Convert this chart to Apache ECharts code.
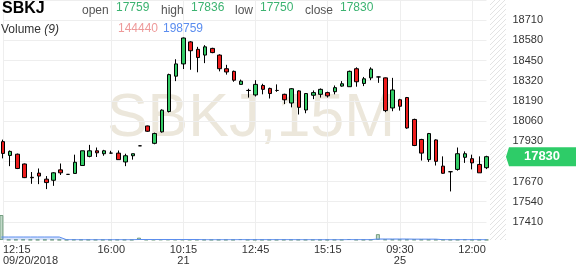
<!DOCTYPE html>
<html><head><meta charset="utf-8">
<script src="https://cdn.jsdelivr.net/npm/echarts@6/dist/echarts.min.js"></script>
<style>html,body{margin:0;padding:0;background:#fff;overflow:hidden}#c{width:576px;height:268px}</style>
</head><body><div id="c"></div>
<script>
const symbol = 'SBKJ';
const period = '15M';
const maPeriod = 9;
const times = [
 '2018-09-20 12:15','2018-09-20 12:30','2018-09-20 12:45','2018-09-20 13:00','2018-09-20 13:15','2018-09-20 13:30','2018-09-20 13:45','2018-09-20 14:00',
 '2018-09-20 14:15','2018-09-20 14:30','2018-09-20 14:45','2018-09-20 15:00','2018-09-20 15:15','2018-09-20 15:30','2018-09-20 15:45','2018-09-20 16:00',
 '2018-09-21 08:00','2018-09-21 08:15','2018-09-21 08:30','2018-09-21 08:45','2018-09-21 09:00','2018-09-21 09:15','2018-09-21 09:30','2018-09-21 09:45',
 '2018-09-21 10:00','2018-09-21 10:15','2018-09-21 10:30','2018-09-21 10:45','2018-09-21 11:00','2018-09-21 11:15','2018-09-21 11:30','2018-09-21 11:45',
 '2018-09-21 12:00','2018-09-21 12:15','2018-09-21 12:30','2018-09-21 12:45','2018-09-21 13:00','2018-09-21 13:15','2018-09-21 13:30','2018-09-21 13:45',
 '2018-09-21 14:00','2018-09-21 14:15','2018-09-21 14:30','2018-09-21 14:45','2018-09-21 15:00','2018-09-21 15:15','2018-09-21 15:30','2018-09-21 15:45',
 '2018-09-21 16:00','2018-09-25 08:00','2018-09-25 08:15','2018-09-25 08:30','2018-09-25 08:45','2018-09-25 09:00','2018-09-25 09:15','2018-09-25 09:30',
 '2018-09-25 09:45','2018-09-25 10:00','2018-09-25 10:15','2018-09-25 10:30','2018-09-25 10:45','2018-09-25 11:00','2018-09-25 11:15','2018-09-25 11:30',
 '2018-09-25 11:45','2018-09-25 12:00','2018-09-25 12:15','2018-09-25 12:30'
];
const labeledTimes = ['2018-09-20 12:15','2018-09-20 16:00','2018-09-21 10:15','2018-09-21 12:45','2018-09-21 15:15','2018-09-25 09:30','2018-09-25 12:00'];
const opens  = [17927,17838,17846,17783,17697,17724,17685,17678,17745,17716,17722,17773,17832,17868,17849,17853,17853,17796,17836,17900,18028,17916,17990,18121,18349,18428,18570,18522,18485,18528,18485,18397,18380,18296,18257,18228,18289,18270,18257,18232,18176,18254,18131,18226,18232,18243,18249,18285,18281,18397,18302,18338,18344,18338,18144,18197,18211,18070,17941,17811,17938,17769,17733,17748,17826,17817,17780,17759];
const closes = [17851,17864,17754,17695,17694,17705,17663,17726,17726,17716,17794,17868,17868,17855,17868,17853,17811,17836,17849,17900,17994,17979,18130,18359,18428,18595,18513,18469,18538,18501,18397,18376,18323,18317,18257,18296,18264,18237,18257,18197,18268,18148,18237,18243,18264,18222,18275,18300,18380,18313,18332,18395,18344,18127,18260,18155,18015,17902,17853,17979,17800,17723,17733,17849,17849,17790,17726,17830];
const lows   = [17819,17769,17750,17692,17655,17653,17621,17642,17712,17716,17722,17773,17826,17828,17836,17851,17811,17769,17811,17900,17990,17910,17985,18115,18317,18395,18390,18374,18433,18497,18380,18359,18313,18296,18211,18218,18232,18205,18248,18169,18148,18102,18110,18201,18211,18211,18232,18281,18281,18281,18285,18323,18306,18117,18123,18127,18010,17898,17805,17796,17773,17720,17606,17740,17790,17748,17726,17750];
const highs  = [17940,17870,17850,17786,17731,17754,17705,17730,17786,17718,17843,17868,17906,17889,17874,17868,17870,17849,17849,17902,18030,17985,18135,18365,18458,18598,18575,18538,18549,18532,18490,18422,18385,18327,18268,18323,18300,18275,18296,18236,18272,18258,18240,18257,18270,18249,18289,18317,18385,18406,18344,18406,18346,18340,18338,18203,18215,18075,17945,17983,17942,17832,17735,17889,17864,17843,17832,17836];
const volumes = [20000000,180000,210000,230000,190000,170000,160000,220000,150000,140000,260000,240000,200000,180000,170000,190000,230000,210000,200000,
 1900000,300000,280000,420000,380000,350000,330000,260000,240000,220000,200000,190000,210000,200000,
 700000,180000,200000,190000,170000,160000,220000,250000,230000,210000,180000,170000,160000,190000,200000,
 800000,250000,220000,240000,4700000,400000,350000,300000,320000,310000,280000,260000,240000,230000,220000,210000,450000,180000,160000,144440];
const volMA = [2400000,2400000,2400000,2400000,2400000,2400000,2400000,2400000,2400000,
 215000,205000,200000,198000,195000,200000,205000,210000,208000,205000,
 390000,392000,388000,385000,390000,395000,392000,388000,385000,
 205000,200000,198000,202000,205000,
 260000,260000,260000,260000,260000,260000,260000,260000,
 210000,210000,210000,210000,210000,210000,210000,
 270000,270000,270000,270000,
 790000,790000,790000,790000,790000,
 700000,700000,700000,700000,
 230000,225000,220000,250000,245000,240000,198759];
const priceMin = 17280, priceMax = 18840, priceStep = 130;

const FONT = "Arial, 'Liberation Sans', sans-serif";
const UP = '#33cc66', DOWN = '#ee1c1c', NUMG = '#3cb371';
const last = times.length - 1;
const candles = times.map((t, i) => [opens[i], closes[i], lows[i], highs[i]]);

function xLabel(value) {
  const k = labeledTimes.indexOf(value);
  const [d, t] = value.split(' ');
  const [Y, M, D] = d.split('-');
  if (k === 0) return t + '\n' + M + '/' + D + '/' + Y;
  if (k > 0 && labeledTimes[k - 1].split(' ')[0] !== d) return t + '\n' + D;
  return t;
}
const isLabeled = (idx, value) => labeledTimes.includes(value);

const chart = echarts.init(document.getElementById('c'), null, {renderer: 'canvas'});
const gridL = 1.4, gridR = 89.5;
chart.setOption({
  animation: false,
  textStyle: {fontFamily: FONT},
  grid: [
    {left: gridL, right: gridR, top: -4.5, bottom: 26},
    {left: gridL, right: gridR, top: 215, bottom: 28}
  ],
  xAxis: [
    {type: 'category', gridIndex: 0, data: times, boundaryGap: false,
     axisLine: {show: false}, axisTick: {show: false},
     axisLabel: {interval: isLabeled, formatter: xLabel, color: '#333', fontSize: 11, lineHeight: 11, margin: 2, fontFamily: FONT, alignMinLabel: 'left', hideOverlap: false},
     splitLine: {show: true, interval: isLabeled, lineStyle: {color: '#eeeeee', width: 1}}},
    {type: 'category', gridIndex: 1, data: times, boundaryGap: false, show: false}
  ],
  yAxis: [
    {type: 'value', gridIndex: 0, position: 'right', min: priceMin, max: priceMax, interval: priceStep, scale: true,
     axisLine: {show: false}, axisTick: {show: false},
     axisLabel: {showMinLabel: false, showMaxLabel: false, margin: 26, color: '#333', fontSize: 11, fontFamily: FONT,
       formatter: v => String(v)},
     splitLine: {lineStyle: {color: '#eeeeee', width: 1}}},
    {type: 'value', gridIndex: 1, min: 0, max: volumes[0], show: false, splitLine: {show: false}}
  ],
  series: [
    {type: 'candlestick', xAxisIndex: 0, yAxisIndex: 0, data: candles, barWidth: 4, clip: false, z: 5,
     itemStyle: {color: UP, color0: DOWN, borderColor: '#000', borderColor0: '#000', borderColorDoji: '#000', borderWidth: 1}},
    {type: 'bar', xAxisIndex: 1, yAxisIndex: 1, data: volumes, barWidth: 4, z: 3,
     itemStyle: {color: 'rgba(120,170,135,0.45)', borderColor: 'rgba(90,140,105,0.8)', borderWidth: 1}},
    {type: 'line', xAxisIndex: 1, yAxisIndex: 1, data: volMA, symbol: 'none', z: 4,
     lineStyle: {color: '#5b8def', width: 1}, areaStyle: {color: 'rgba(91,141,239,0.35)'}}
  ]
});

const yClose = chart.convertToPixel({yAxisIndex: 0}, closes[last]);
const yBottom = chart.convertToPixel({yAxisIndex: 1}, 0);

// hatched "future" zone drawn onto a canvas image
const hatchW = 16, hatchH = Math.round(yBottom);
const hc = document.createElement('canvas');
hc.width = hatchW; hc.height = hatchH;
const hx = hc.getContext('2d');
hx.strokeStyle = '#e3e3e3'; hx.lineWidth = 1;
for (let k = -hatchW; k < hatchH + hatchW; k += 5) {
  hx.beginPath(); hx.moveTo(0, k + hatchW); hx.lineTo(hatchW, k); hx.stroke();
}

const tagX = 506, tagH = 19;
const hdrLbl = {fill: '#555', font: '12px ' + FONT};
const hdrNum = {fill: NUMG, font: '12px ' + FONT};
chart.setOption({
  graphic: [
    {type: 'text', z: -10, silent: true,
     style: {text: symbol + ',' + period, x: 251, y: 119, align: 'center', verticalAlign: 'middle', fill: '#ece7db', font: '61px ' + FONT}},
    {type: 'image', silent: true, style: {image: hc, x: 490, y: 0, width: hatchW, height: hatchH}},
    {type: 'text', style: {text: symbol, x: 2, y: 8.5, verticalAlign: 'middle', fill: '#000', font: 'bold 16px ' + FONT}},
    {type: 'text', style: Object.assign({text: 'open', x: 82, y: 11, verticalAlign: 'middle'}, hdrLbl)},
    {type: 'text', style: Object.assign({text: String(opens[last]), x: 116, y: 8, verticalAlign: 'middle'}, hdrNum)},
    {type: 'text', style: Object.assign({text: 'high', x: 161, y: 11, verticalAlign: 'middle'}, hdrLbl)},
    {type: 'text', style: Object.assign({text: String(highs[last]), x: 191, y: 8, verticalAlign: 'middle'}, hdrNum)},
    {type: 'text', style: Object.assign({text: 'low', x: 235, y: 11, verticalAlign: 'middle'}, hdrLbl)},
    {type: 'text', style: Object.assign({text: String(lows[last]), x: 260, y: 8, verticalAlign: 'middle'}, hdrNum)},
    {type: 'text', style: Object.assign({text: 'close', x: 305, y: 11, verticalAlign: 'middle'}, hdrLbl)},
    {type: 'text', style: Object.assign({text: String(closes[last]), x: 340, y: 8, verticalAlign: 'middle'}, hdrNum)},
    {type: 'text', style: {text: 'Volume {i|(' + maPeriod + ')}', x: 1, y: 29.5, verticalAlign: 'middle', fill: '#333', font: '12px ' + FONT,
      rich: {i: {fontStyle: 'italic', fontSize: 12, fill: '#333', fontFamily: FONT}}}},
    {type: 'text', style: {text: String(volumes[last]), x: 118, y: 29, verticalAlign: 'middle', fill: '#ee9a9a', font: '12px ' + FONT}},
    {type: 'text', style: {text: String(volMA[last]), x: 163, y: 29, verticalAlign: 'middle', fill: '#5b8def', font: '12px ' + FONT}},
    {type: 'polygon', z: 50, shape: {points: [[tagX, yClose], [tagX + 3, yClose - tagH / 2], [576, yClose - tagH / 2], [576, yClose + tagH / 2], [tagX + 3, yClose + tagH / 2]]},
     style: {fill: '#2ecc68'}},
    {type: 'text', z: 51, style: {text: String(closes[last]), x: 542, y: yClose, align: 'center', verticalAlign: 'middle', fill: '#fff', font: 'bold 13px ' + FONT}}
  ]
});
</script></body></html>
